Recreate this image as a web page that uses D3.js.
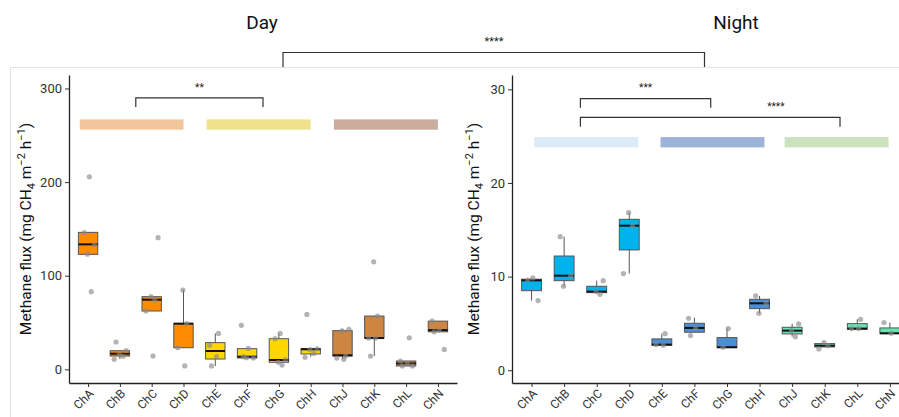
<!DOCTYPE html>
<html>
<head>
<meta charset="utf-8">
<script src="https://cdn.jsdelivr.net/npm/d3@7"></script>
<style>
  body { margin: 0; background: #fff; }
  text { font-family: Roboto, "Liberation Sans", sans-serif; }
</style>
</head>
<body>
<div id="graph"></div>
<script>
const categories = ["ChA", "ChB", "ChC", "ChD", "ChE", "ChF", "ChG", "ChH", "ChJ", "ChK", "ChL", "ChN"];

// box stats per category: [lower whisker, q1, median, q3, upper whisker]
const dayBoxes = [
  [122.8, 122.8, 133.5, 146.3, 146.3],
  [11, 14.2, 16.7, 19.9, 19.9],
  [62.3, 62.3, 74.4, 77.6, 77.6],
  [23.1, 23.1, 48.8, 48.8, 84.7],
  [3.6, 11, 19.6, 28.5, 38.4],
  [12.1, 12.1, 13.5, 22.1, 22.1],
  [7.5, 7.5, 10, 32.7, 38.4],
  [13.5, 16.4, 21.4, 22.1, 22.1],
  [11, 14.2, 15, 41.3, 43],
  [14.2, 33.4, 33.4, 56.9, 56.9],
  [3.6, 3.6, 6.3, 8.9, 8.9],
  [40.1, 40.1, 41.9, 51.5, 51.5]
];
const dayPoints = [
  [205.7, 146, 133, 123, 83],
  [29.2, 19.9, 17, 14, 10.7],
  [140.6, 77.6, 74, 62.3, 14.2],
  [84.7, 48.8, 23.1, 3.6],
  [38.4, 25.6, 13.5, 3.6],
  [47, 22.4, 13.5, 12.1, 12.5],
  [38.4, 32.7, 10, 7.5, 4.6],
  [58.7, 22, 21, 17, 12.9],
  [42.7, 41, 14.2, 12, 10.7],
  [114.8, 56.9, 33.4, 33.4, 14.2],
  [33.7, 8.9, 6.3, 3.6, 3.6],
  [51.5, 41.9, 40.1, 21.3]
];
const nightBoxes = [
  [7.44, 8.5, 9.6, 9.72, 9.8],
  [8.97, 9.57, 10.1, 12.2, 14.27],
  [8.29, 8.29, 8.4, 8.97, 9.57],
  [10.32, 12.85, 15.44, 16.12, 16.83],
  [2.67, 2.67, 2.74, 3.35, 3.91],
  [4.06, 4.06, 4.52, 5.02, 5.62],
  [2.42, 2.42, 2.46, 3.49, 4.45],
  [6.09, 6.58, 7.15, 7.58, 7.94],
  [3.59, 3.88, 4.23, 4.59, 4.95],
  [2.49, 2.49, 2.63, 2.85, 2.85],
  [4.38, 4.38, 4.45, 4.98, 5.44],
  [3.91, 3.91, 3.95, 4.52, 5.09]
];
const nightPoints = [
  [9.86, 9.64, 7.44],
  [14.27, 10.1, 8.97],
  [9.57, 8.4, 8.11],
  [16.83, 15.44, 10.32],
  [3.91, 2.74, 2.67],
  [5.55, 4.48, 3.7],
  [4.45, 2.46],
  [7.94, 7.15, 6.09],
  [4.95, 4.23, 3.59],
  [2.95, 2.63, 2.28],
  [5.44, 4.45, 4.45],
  [5.09, 3.95]
];
const dayTicks = [0, 100, 200, 300];
const nightTicks = [0, 10, 20, 30];

// group strips: [from, to] in category index units, [bottom, top] in y units
const dayStrips = [[-0.26, 3], [3.73, 7], [7.73, 11]];
const dayStripY = [256, 267];
const nightStrips = [[0.08, 3.27], [3.96, 7.15], [7.77, 10.96]];
const nightStripY = [23.8, 24.9];

// significance brackets: from, to (index units), bar y, tip y, label, label x, label y
const dayBrackets = [
  {from: 1.5, to: 5.5, bar: 290, tip: 280.3, label: "**", lx: 3.5, ly: 302}
];
const nightBrackets = [
  {from: 1.5, to: 5.5, bar: 29.0, tip: 28.03, label: "***", lx: 3.5, ly: 30.2},
  {from: 1.5, to: 9.47, bar: 27.0, tip: 26.0, label: "****", lx: 7.5, ly: 28.2}
];

const W = 899, H = 417;
const svg = d3.select("#graph").append("svg")
  .attr("width", W).attr("height", H);

// light frame: left edge of the day panel and the shared top edge
svg.append("path").attr("d", "M10.5,417V67.5H899")
  .attr("fill", "none").attr("stroke", "#e3e3e3");

// titles + top comparison
svg.append("text").attr("x", 262).attr("y", 29).attr("text-anchor", "middle")
  .attr("font-size", 19).attr("fill", "#111").text("Day");
svg.append("text").attr("x", 736).attr("y", 29).attr("text-anchor", "middle")
  .attr("font-size", 19).attr("fill", "#111").text("Night");
svg.append("path").attr("d", "M283,67V52.5H704.5V67")
  .attr("fill", "none").attr("stroke", "#333").attr("stroke-width", 1.2);
svg.append("text").attr("x", 494).attr("y", 45).attr("text-anchor", "middle")
  .attr("font-size", 11).attr("fill", "#222").text("****");

function panel(opts) {
  const g = svg.append("g");
  const x = d3.scalePoint().domain(categories).range([opts.x0, opts.x1]).padding(0.6);
  const step = x.step();
  const y = d3.scaleLinear().domain(opts.yDomain).range([383, 75]);
  const xi = i => x(categories[0]) + i * step;

  // y axis
  const ya = g.append("g").attr("transform", `translate(${opts.x0},0)`)
    .call(d3.axisLeft(y).tickValues(opts.ticks).tickSize(4).tickSizeOuter(0));
  ya.select(".domain").attr("stroke", "#222").attr("stroke-width", 1.3);
  ya.selectAll(".tick line").attr("stroke", "#333");
  ya.selectAll(".tick text").attr("font-size", 13).attr("fill", "#333")
    .attr("font-family", "Roboto, sans-serif");

  // x axis (labels drawn separately, slanted)
  const xa = g.append("g").attr("transform", "translate(0,383)")
    .call(d3.axisBottom(x).tickSize(4).tickSizeOuter(0).tickFormat(""));
  xa.select(".domain").attr("stroke", "#222").attr("stroke-width", 1.3);
  xa.selectAll(".tick line").attr("stroke", "#333");

  g.append("g").selectAll("text").data(categories).enter().append("text")
    .attr("transform", d => `translate(${x(d) + 1},389) rotate(-45)`)
    .attr("text-anchor", "end")
    .attr("dy", "0.62em")
    .attr("font-size", 12).attr("fill", "#333")
    .text(d => d);

  // y title
  const t = g.append("text").attr("transform", `translate(${opts.titleX},229) rotate(-90)`)
    .attr("text-anchor", "middle").attr("font-size", 15.5).attr("fill", "#111");
  t.append("tspan").text("Methane flux (mg CH");
  t.append("tspan").attr("font-size", 11).attr("dy", 4).text("4");
  t.append("tspan").attr("dy", -4).text(" m");
  t.append("tspan").attr("font-size", 11).attr("dy", -6).text("\u22122");
  t.append("tspan").attr("dy", 6).text(" h");
  t.append("tspan").attr("font-size", 11).attr("dy", -6).text("\u22121");
  t.append("tspan").attr("dy", 6).text(")");

  // strips
  g.selectAll(".strip").data(opts.strips).enter().append("rect")
    .attr("x", d => xi(d[0])).attr("width", d => xi(d[1]) - xi(d[0]))
    .attr("y", y(opts.stripY[1])).attr("height", y(opts.stripY[0]) - y(opts.stripY[1]))
    .attr("fill", (d, i) => opts.stripColors[i]);

  // brackets
  opts.brackets.forEach(b => {
    g.append("path")
      .attr("d", `M${xi(b.from)},${y(b.tip)}V${y(b.bar)}H${xi(b.to)}V${y(b.tip)}`)
      .attr("fill", "none").attr("stroke", "#333").attr("stroke-width", 1.2);
    g.append("text").attr("x", xi(b.lx)).attr("y", y(b.ly) + 4)
      .attr("text-anchor", "middle").attr("font-size", 10).attr("fill", "#222").text(b.label);
  });

  // boxes
  const bw = step * 0.61;
  const boxes = g.selectAll(".box").data(opts.boxes).enter().append("g");
  boxes.append("line")
    .attr("x1", (d, i) => x(categories[i])).attr("x2", (d, i) => x(categories[i]))
    .attr("y1", d => y(d[0])).attr("y2", d => y(d[4]))
    .attr("stroke", "#555").attr("stroke-width", 1);
  boxes.append("rect")
    .attr("x", (d, i) => x(categories[i]) - bw / 2).attr("width", bw)
    .attr("y", d => y(d[3])).attr("height", d => Math.max(1, y(d[1]) - y(d[3])))
    .attr("fill", (d, i) => opts.colors[Math.floor(i / 4)])
    .attr("stroke", "#555").attr("stroke-width", 1);
  boxes.append("line")
    .attr("x1", (d, i) => x(categories[i]) - bw / 2).attr("x2", (d, i) => x(categories[i]) + bw / 2)
    .attr("y1", d => y(d[2])).attr("y2", d => y(d[2]))
    .attr("stroke", "#111").attr("stroke-width", 2);

  // jittered raw points
  const jit = [0.04, -0.12, 0.2, -0.02, 0.1, -0.18];
  opts.points.forEach((arr, i) => {
    g.selectAll(null).data(arr).enter().append("circle")
      .attr("cx", (d, k) => x(categories[i]) + jit[(k + i) % jit.length] * step)
      .attr("cy", d => y(d))
      .attr("r", 2.6)
      .attr("fill", "#8a8a8a").attr("fill-opacity", 0.65);
  });
}

panel({
  x0: 69, x1: 457, yDomain: [-14.6, 314.4], ticks: dayTicks, titleX: 31,
  boxes: dayBoxes, points: dayPoints,
  colors: ["#ff8c00", "#ffd700", "#cd853f"],
  strips: dayStrips, stripY: dayStripY,
  stripColors: ["#f3c59a", "#f0e18d", "#cbac9d"],
  brackets: dayBrackets
});
panel({
  x0: 512, x1: 909.4, yDomain: [-1.36, 31.53], ticks: nightTicks, titleX: 479,
  boxes: nightBoxes, points: nightPoints,
  colors: ["#00b2ee", "#4a8fd6", "#66e3b4"],
  strips: nightStrips, stripY: nightStripY,
  stripColors: ["#ddeaf8", "#9eb3d8", "#cce2bf"],
  brackets: nightBrackets
});
</script>
</body>
</html>
